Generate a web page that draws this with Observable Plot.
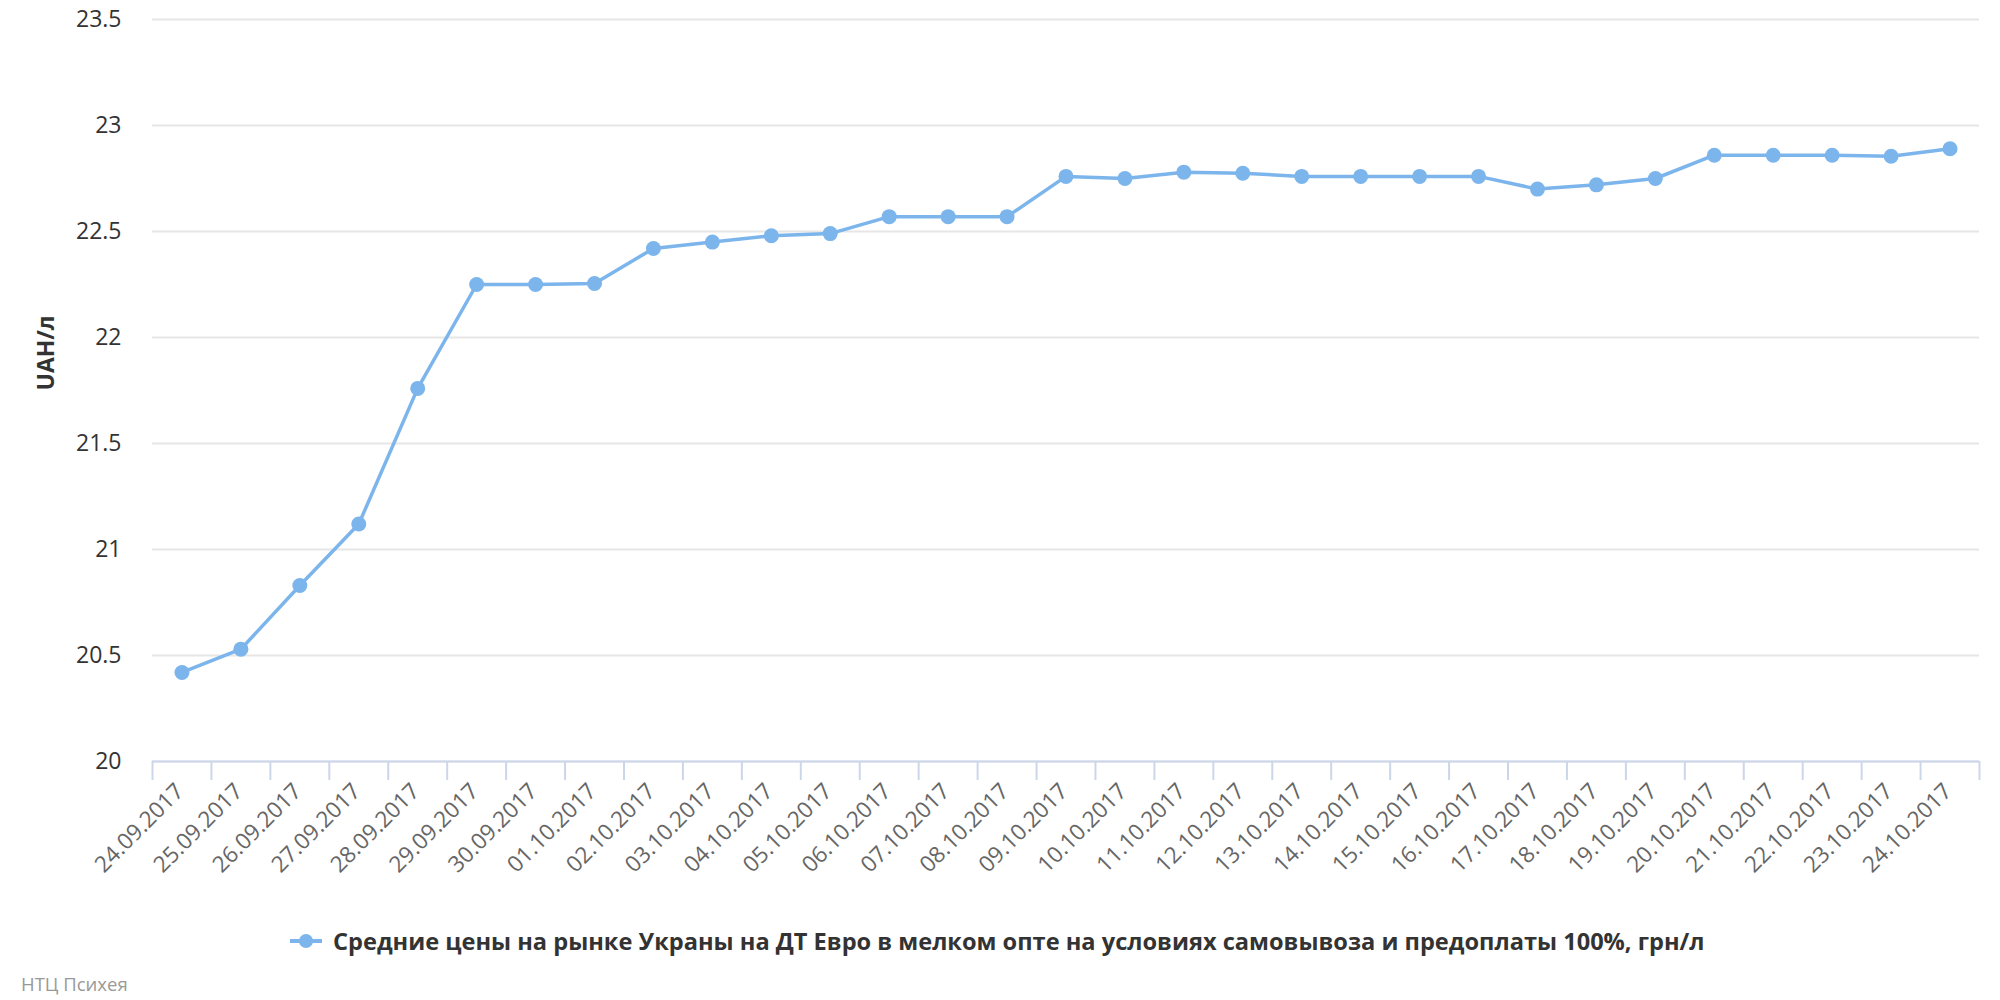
<!DOCTYPE html>
<html>
<head>
<meta charset="utf-8">
<script src="https://cdn.jsdelivr.net/npm/d3@7"></script>
<script src="https://cdn.jsdelivr.net/npm/@observablehq/plot@0.6"></script>
<style>
  html, body { margin: 0; padding: 0; background: #fff; }
  #wrap { position: relative; width: 2000px; height: 1000px; font-family: "Open Sans", "DejaVu Sans", sans-serif; }
  #legend { position: absolute; left: 290px; top: 925px; display: flex; align-items: center; font-size: 23.6px; font-weight: bold; color: #333; white-space: nowrap; }
  #legend svg { margin-right: 11px; }
  #caption { position: absolute; left: 21px; top: 971px; font-size: 18.5px; color: #999; }
</style>
</head>
<body>
<div id="wrap">
  <div id="chart"></div>
  <div id="legend"></div>
  <div id="caption">НТЦ Психея</div>
</div>
<script>
const dates = ["24.09.2017","25.09.2017","26.09.2017","27.09.2017","28.09.2017","29.09.2017","30.09.2017",
  "01.10.2017","02.10.2017","03.10.2017","04.10.2017","05.10.2017","06.10.2017","07.10.2017","08.10.2017",
  "09.10.2017","10.10.2017","11.10.2017","12.10.2017","13.10.2017","14.10.2017","15.10.2017","16.10.2017",
  "17.10.2017","18.10.2017","19.10.2017","20.10.2017","21.10.2017","22.10.2017","23.10.2017","24.10.2017"];
const prices = [20.42, 20.53, 20.83, 21.12, 21.76, 22.25, 22.25,
  22.255, 22.42, 22.45, 22.48, 22.49, 22.57, 22.57, 22.57,
  22.76, 22.75, 22.78, 22.775, 22.76, 22.76, 22.76, 22.76,
  22.70, 22.72, 22.75, 22.86, 22.86, 22.86, 22.855, 22.89];
const yTicks = [20, 20.5, 21, 21.5, 22, 22.5, 23, 23.5];
const seriesName = "Средние цены на рынке Украны на ДТ Евро в мелком опте на условиях самовывоза и предоплаты 100%, грн/л";
const yTitle = "UAH/л";
const lineColor = "#7cb5ec";

const data = dates.map((d, i) => ({i, date: d, value: prices[i]}));
const idx = dates.map((d, i) => i);
const bounds = idx.map(i => i - 0.5).concat([dates.length - 0.5]);

const chart = Plot.plot({
  width: 2000,
  height: 900,
  marginTop: 19,
  marginBottom: 139,
  marginLeft: 152,
  marginRight: 21,
  style: {fontFamily: "'Open Sans', 'DejaVu Sans', sans-serif", background: "#fff"},
  x: {type: "linear", domain: [-0.5, dates.length - 0.5]},
  y: {domain: [20, 23.5]},
  marks: [
    Plot.gridY(yTicks, {stroke: "#e6e6e6", strokeOpacity: 1, strokeWidth: 2}),
    Plot.axisY(yTicks, {tickSize: 0, tickPadding: 31, fontSize: 23, fill: "#333", tickFormat: d => String(d), label: null}),
    Plot.text([yTitle], {frameAnchor: "left", dx: -106, rotate: -90, fontSize: 23, fontWeight: "bold", fill: "#333"}),
    Plot.axisX(bounds, {tickSize: 19, stroke: "#ccd6eb", strokeWidth: 2, tickFormat: () => "", label: null}),
    Plot.axisX(idx, {tickSize: 0, tickPadding: 26, dx: -2, tickRotate: -45, fontSize: 22.5, fill: "#666", tickFormat: i => dates[i], label: null}),
    Plot.ruleY([20], {stroke: "#ccd6eb", strokeWidth: 2}),
    Plot.line(data, {x: "i", y: "value", stroke: lineColor, strokeWidth: 3.5}),
    Plot.dot(data, {x: "i", y: "value", r: 7.5, fill: lineColor, stroke: "none"})
  ]
});
document.getElementById("chart").appendChild(chart);

// legend
const lg = document.getElementById("legend");
const ns = "http://www.w3.org/2000/svg";
const sw = document.createElementNS(ns, "svg");
sw.setAttribute("width", 32); sw.setAttribute("height", 20);
const ln = document.createElementNS(ns, "line");
ln.setAttribute("x1", 0); ln.setAttribute("x2", 32); ln.setAttribute("y1", 10); ln.setAttribute("y2", 10);
ln.setAttribute("stroke", lineColor); ln.setAttribute("stroke-width", 4);
const ci = document.createElementNS(ns, "circle");
ci.setAttribute("cx", 16); ci.setAttribute("cy", 10); ci.setAttribute("r", 7); ci.setAttribute("fill", lineColor);
sw.appendChild(ln); sw.appendChild(ci);
lg.appendChild(sw);
const sp = document.createElement("span");
sp.textContent = seriesName;
lg.appendChild(sp);
</script>
</body>
</html>
